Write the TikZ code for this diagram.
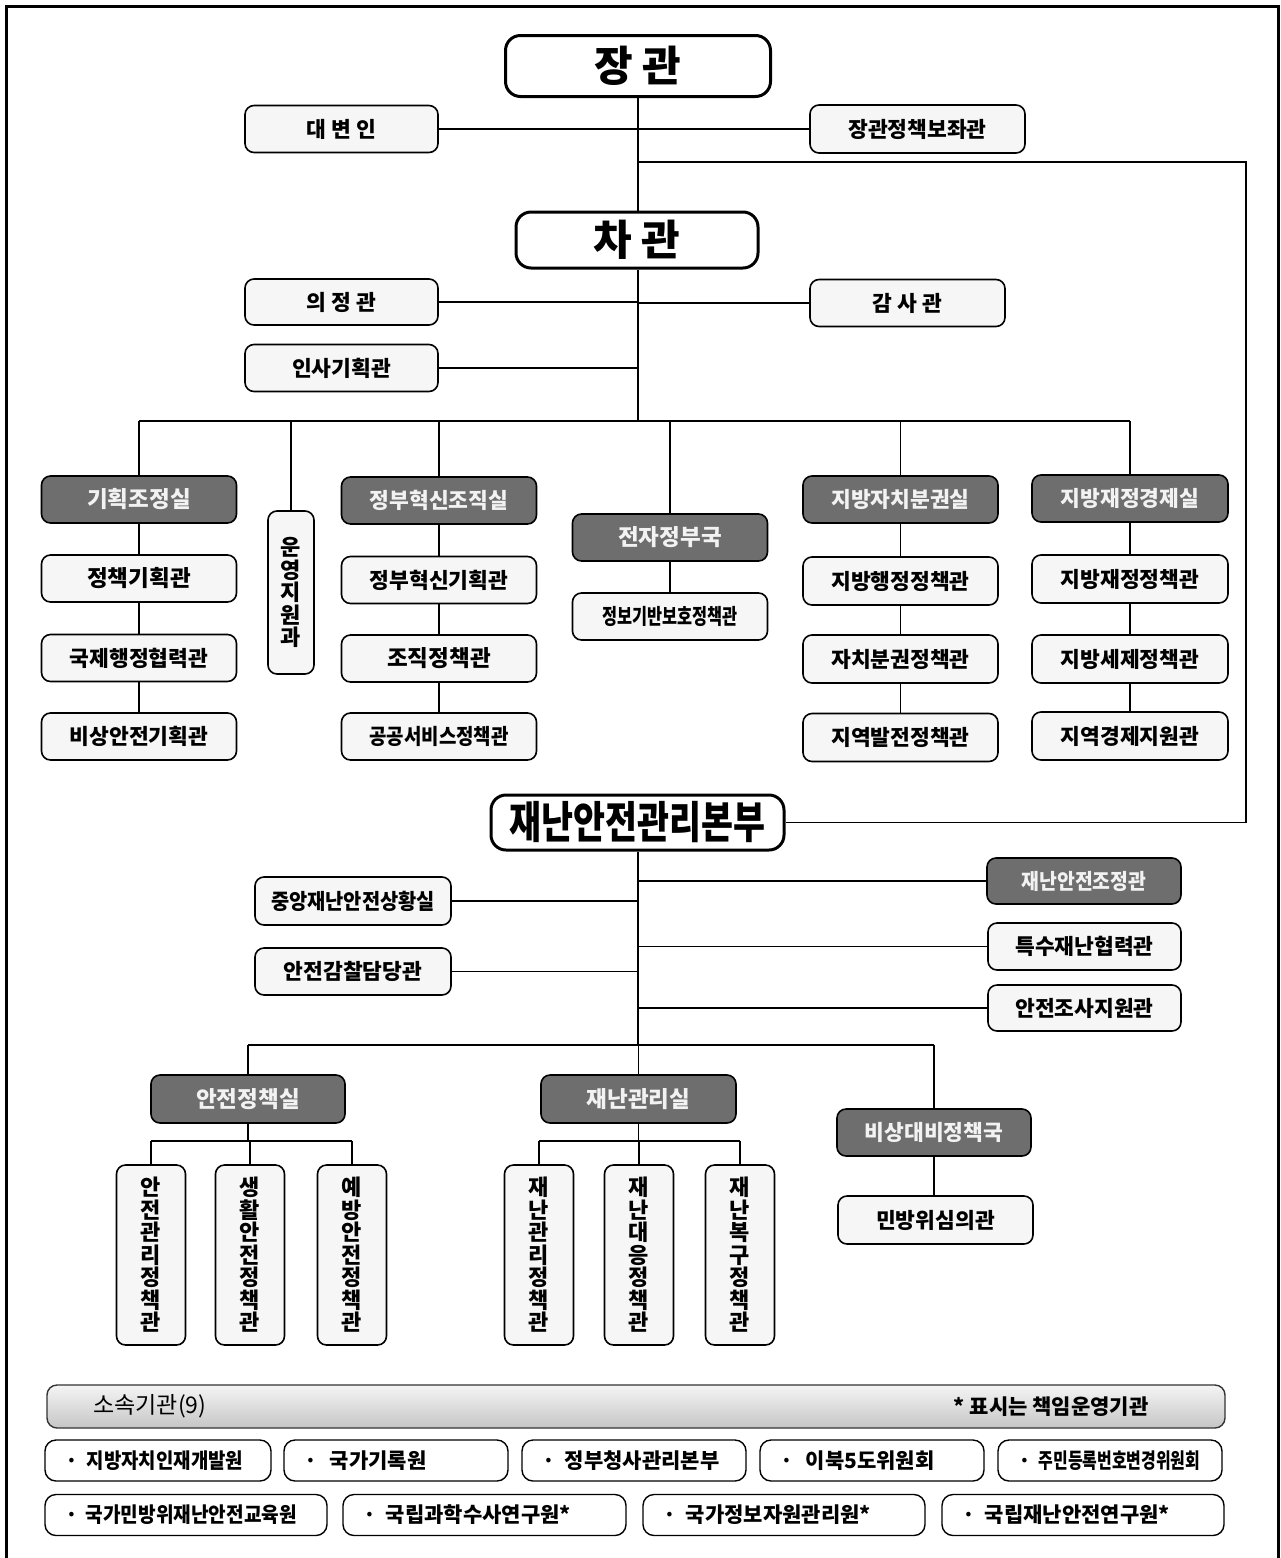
\documentclass[tikz,border=0pt]{standalone}
\usepackage{fontspec}
\setmainfont{Noto Sans CJK KR}
\definecolor{boxfill}{HTML}{F6F6F6}
\definecolor{darkfill}{HTML}{6E6E6E}
\definecolor{darktext}{HTML}{F2F2F2}
\newcommand{\fs}[1]{\fontsize{#1}{#1}\selectfont}
\newcommand{\vfs}{\fontsize{22}{22.5}\selectfont}
\newcommand{\narrow}[2]{\scalebox{#1}[1]{#2}}
\begin{document}
\begin{tikzpicture}[x=1pt,y=-1pt,
  box/.style={draw=black, line width=1.6pt, rounded corners=9pt, fill=boxfill, inner sep=0pt,
    font=\fs{21.5}\bfseries, text=black, minimum width=195pt, minimum height=47pt},
  dark/.style={box, fill=darkfill, text=darktext},
  topbox/.style={box, line width=3pt, rounded corners=15pt, fill=white, font=\fs{42}\bfseries},
  vbox/.style={box, minimum width=69pt, minimum height=180pt, align=center, font=\vfs\bfseries},
  org/.style={draw=black, line width=1.4pt, rounded corners=11pt, fill=white, inner ysep=0pt, inner xsep=20pt,
    minimum height=41pt, align=left, font=\fs{21}\bfseries},
  link/.style={line width=1.6pt},
  frame/.style={line width=3pt}
]
\useasboundingbox (0,0) rectangle (1281,1558);
\draw[frame] (6,1558) -- (6,6) -- (1278,6) -- (1278,1558);

% top
\node[topbox, minimum width=265pt, minimum height=61pt] (jang) at (638,66) {장 관};
\node[box, minimum width=193pt] (daeb) at (341.5,129) {대 변 인};
\node[box, minimum width=215pt, minimum height=48pt] (jbo) at (917.5,129) {장관정책보좌관};
\node[topbox, minimum width=242pt, minimum height=56pt] (cha) at (637,240) {차 관};
\node[box, minimum width=193pt, minimum height=46pt] (uij) at (341.5,302) {의 정 관};
\node[box, minimum width=195pt, minimum height=47pt] (gam) at (907.5,303) {감 사 관};
\node[box, minimum width=193pt, minimum height=47pt] (insa) at (341.5,368) {인사기획관};

\coordinate (r1) at (638,162);
\coordinate (r2) at (1246,162);
\coordinate (bar) at (638,421);

\draw[link] (daeb.east) -- (jbo.west);
\draw[link] (jang.south) -- (cha.north -| jang.south);
\draw[link] (cha.south -| jang.south) -- (bar);
\draw[link] (uij.east) -- (uij.east -| bar);
\draw[link] (gam.west) -- (gam.west -| bar);
\draw[link] (insa.east) -- (insa.east -| bar);

% column 1
\node[dark, font=\fs{22.5}\bfseries] (gj) at (139,499.5) {기획조정실};
\node[box, font=\fs{22.5}\bfseries] (g1) at (139,578.5) {정책기획관};
\node[box] (g2) at (139,658) {국제행정협력관};
\node[box] (g3) at (139,736.5) {비상안전기획관};
% unyeong
\node[vbox, minimum width=46pt, minimum height=163pt] (uy) at (291,592.5) {운\\영\\지\\원\\과};
% column 2
\node[dark] (jh) at (439,500.5) {정부혁신조직실};
\node[box] (j1) at (439,580) {정부혁신기획관};
\node[box, font=\fs{22.5}\bfseries] (j2) at (439,658.5) {조직정책관};
\node[box] (j3) at (439,736.5) {\narrow{0.88}{공공서비스정책관}};
% column 3
\node[dark, font=\fs{22.5}\bfseries] (jj) at (670,537.5) {전자정부국};
\node[box] (jj1) at (670,616.5) {\narrow{0.76}{정보기반보호정책관}};
% column 4
\node[dark] (jb) at (900.5,499.5) {지방자치분권실};
\node[box, minimum height=48pt] (b1) at (900.5,581) {지방행정정책관};
\node[box, minimum height=48pt] (b2) at (900.5,659) {자치분권정책관};
\node[box, minimum height=48pt] (b3) at (900.5,737.5) {지역발전정책관};
% column 5
\node[dark, minimum width=196pt] (jf) at (1130,498.5) {지방재정경제실};
\node[box, minimum width=196pt, minimum height=48pt] (f1) at (1130,579) {지방재정정책관};
\node[box, minimum width=196pt, minimum height=48pt] (f2) at (1130,659) {지방세제정책관};
\node[box, minimum width=196pt, minimum height=48pt] (f3) at (1130,736) {지역경제지원관};

\draw[link] (gj.north |- bar) -- (jf.north |- bar);
\foreach \n in {gj,uy,jh,jj,jb,jf} \draw[link] (\n.north |- bar) -- (\n.north);
\draw[link] (gj.south) -- (g1.north) (g1.south) -- (g2.north) (g2.south) -- (g3.north);
\draw[link] (jh.south) -- (j1.north) (j1.south) -- (j2.north) (j2.south) -- (j3.north);
\draw[link] (jj.south) -- (jj1.north);
\draw[link] (jb.south) -- (b1.north) (b1.south) -- (b2.north) (b2.south) -- (b3.north);
\draw[link] (jf.south) -- (f1.north) (f1.south) -- (f2.north) (f2.south) -- (f3.north);

% disaster HQ
\node[topbox, minimum width=293pt, minimum height=55pt, font=\fs{44}\bfseries] (hq) at (637.5,822.5) {\narrow{0.79}{재난안전관리본부}};
\draw[link] (r1) -- (r2) |- (hq.east);

\coordinate (bar2) at (638,1045);
\node[box, minimum width=196pt, minimum height=48pt] (sang) at (353,901) {\narrow{0.92}{중앙재난안전상황실}};
\node[box, minimum width=196pt, minimum height=47pt] (gamch) at (353,971.5) {안전감찰담당관};
\node[dark, minimum width=194pt, minimum height=46pt] (jjg) at (1084,881) {\narrow{0.9}{재난안전조정관}};
\node[box, minimum width=193pt, minimum height=47pt] (teuk) at (1084.5,946.5) {특수재난협력관};
\node[box, minimum width=193pt, minimum height=46pt] (josa) at (1084.5,1008) {안전조사지원관};

\draw[link] (hq.south -| bar2) -- (bar2);
\draw[link] (sang.east) -- (sang.east -| bar2);
\draw[link] (gamch.east) -- (gamch.east -| bar2);
\draw[link] (jjg.west) -- (jjg.west -| bar2);
\draw[link] (teuk.west) -- (teuk.west -| bar2);
\draw[link] (josa.west) -- (josa.west -| bar2);

\node[dark, minimum width=194pt, minimum height=48pt, font=\fs{22.5}\bfseries] (ajs) at (248,1099) {안전정책실};
\node[dark, minimum width=195pt, minimum height=48pt, font=\fs{22.5}\bfseries] (jgs) at (638.5,1099) {재난관리실};
\node[dark, minimum width=194pt, minimum height=47pt] (bsd) at (934,1132.5) {비상대비정책국};
\node[box, minimum width=195pt, minimum height=48pt] (mbw) at (935.5,1220) {민방위심의관};

\draw[link] (ajs.north |- bar2) -- (bsd.north |- bar2);
\foreach \n in {ajs,jgs,bsd} \draw[link] (\n.north |- bar2) -- (\n.north);
\draw[link] (bsd.south) -- (mbw.north -| bsd.south);

\coordinate (sb) at (0,1141);
\node[vbox] (a1) at (151,1255) {안\\전\\관\\리\\정\\책\\관};
\node[vbox] (a2) at (250,1255) {생\\활\\안\\전\\정\\책\\관};
\node[vbox] (a3) at (352,1255) {예\\방\\안\\전\\정\\책\\관};
\node[vbox] (d1) at (539,1255) {재\\난\\관\\리\\정\\책\\관};
\node[vbox] (d2) at (639,1255) {재\\난\\대\\응\\정\\책\\관};
\node[vbox] (d3) at (740,1255) {재\\난\\복\\구\\정\\책\\관};

\draw[link] (ajs.south) -- (ajs.south |- sb);
\draw[link] (a1.north |- sb) -- (a3.north |- sb);
\foreach \n in {a1,a2,a3} \draw[link] (\n.north |- sb) -- (\n.north);
\draw[link] (jgs.south) -- (jgs.south |- sb);
\draw[link] (d1.north |- sb) -- (d3.north |- sb);
\foreach \n in {d1,d2,d3} \draw[link] (\n.north |- sb) -- (\n.north);

% affiliated organizations
\node[draw=black!80, line width=1.4pt, rounded corners=10pt, top color=gray!8, bottom color=gray!45,
  minimum width=1178pt, minimum height=43pt, inner sep=0pt] (sosok) at (636,1406.5) {};
\node[font=\fs{23}, anchor=west, inner sep=0pt] (sosokt) at ([xshift=47pt]sosok.west) {소속기관(9)};
\node[font=\fs{21}\bfseries, anchor=east, inner sep=0pt] (sosokn) at ([xshift=-77pt]sosok.east) {* 표시는 책임운영기관};

\node[org, text width=186pt] (o1) at (158,1460.5) {·\hspace{9pt}\narrow{0.9}{지방자치인재개발원}};
\node[org, text width=184pt] (o2) at (396,1460.5) {·\hspace{13pt}국가기록원};
\node[org, text width=184pt] (o3) at (634,1460.5) {·\hspace{10pt}정부청사관리본부};
\node[org, text width=184pt] (o4) at (872,1460.5) {·\hspace{13pt}이북5도위원회};
\node[org, text width=184pt] (o5) at (1110,1460.5) {·\hspace{8pt}\narrow{0.76}{주민등록번호변경위원회}};
\node[org, text width=242pt] (p1) at (186,1515) {·\hspace{8pt}\narrow{0.91}{국가민방위재난안전교육원}};
\node[org, text width=243pt] (p2) at (484.5,1515) {·\hspace{10pt}국립과학수사연구원*};
\node[org, text width=242pt] (p3) at (784,1515) {·\hspace{10pt}국가정보자원관리원*};
\node[org, text width=242pt] (p4) at (1083,1515) {·\hspace{10pt}국립재난안전연구원*};
\end{tikzpicture}
\end{document}
